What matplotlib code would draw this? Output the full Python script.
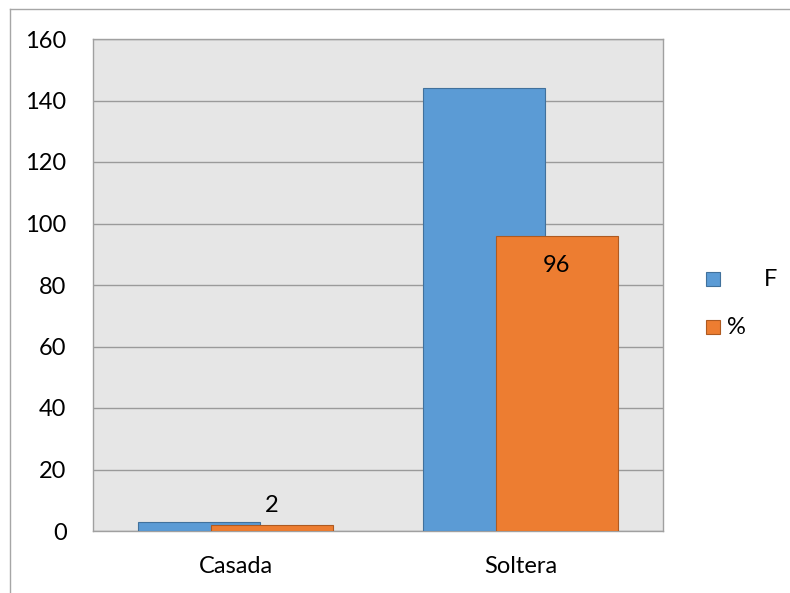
import matplotlib
matplotlib.use("Agg")
import matplotlib.pyplot as plt
from matplotlib.patches import Rectangle
from matplotlib.lines import Line2D
import numpy as np

categories = ["Casada", "Soltera"]
f_values = [3, 144]
pct_values = [2, 96]
pct_labels = ["2", "96"]
series_names = ["F", "%"]
yticks = [0, 20, 40, 60, 80, 100, 120, 140, 160]

plt.rcParams['font.family'] = ['Lato', 'DejaVu Sans']

W, H = 790, 593
fig = plt.figure(figsize=(W / 100, H / 100), dpi=100)
ax = fig.add_axes([93 / W, 1 - 531 / H, 570 / W, 492 / H])
ax.set_facecolor('#e6e6e6')

x = np.arange(len(categories))
bw = 0.428
off = 0.128
blue = '#5b9bd5'
orange = '#ed7d31'
ax.bar(x - off, f_values, bw, color=blue, edgecolor='#41719c', linewidth=0.8, zorder=3)
ax.bar(x + off, pct_values, bw, color=orange, edgecolor='#ae5a21', linewidth=0.8, zorder=4)

FS = 17
ax.set_xlim(-0.5, 1.5)
ax.set_ylim(0, 160)
ax.set_yticks(yticks)
ax.set_xticks(x)
ax.set_xticklabels(categories)
ax.tick_params(axis='both', length=0, labelsize=FS, colors='black')
ax.tick_params(axis='y', pad=19)
ax.tick_params(axis='x', pad=18)
ax.grid(axis='y', color='#9a9a9a', linewidth=1.0, zorder=1)
for s in ax.spines.values():
    s.set_color('#a0a0a0')
    s.set_linewidth(1.0)

# data labels
ax.text(x[0] + off, 8.2, pct_labels[0], ha='center', va='center', fontsize=FS, zorder=5)
ax.text(x[1] + off, 86.5, pct_labels[1], ha='center', va='center', fontsize=FS, zorder=5)

# legend (manual)
fig.patches.append(Rectangle((706 / W, 1 - 286 / H), 14 / W, 14 / H, transform=fig.transFigure,
                             facecolor=blue, edgecolor='#41719c', linewidth=0.8))
fig.patches.append(Rectangle((706 / W, 1 - 334 / H), 14 / W, 14 / H, transform=fig.transFigure,
                             facecolor=orange, edgecolor='#ae5a21', linewidth=0.8))
fig.text(764 / W, 1 - 279 / H, series_names[0], ha='left', va='center', fontsize=FS)
fig.text(727 / W, 1 - 327 / H, series_names[1], ha='left', va='center', fontsize=FS)

# figure border (left and top visible)
fig.lines.append(Line2D([10 / W, 10 / W], [0, 1 - 9 / H], transform=fig.transFigure, color='#a6a6a6', linewidth=1))
fig.lines.append(Line2D([10 / W, 1], [1 - 9 / H, 1 - 9 / H], transform=fig.transFigure, color='#a6a6a6', linewidth=1))

fig.savefig('out.png', dpi=100)
